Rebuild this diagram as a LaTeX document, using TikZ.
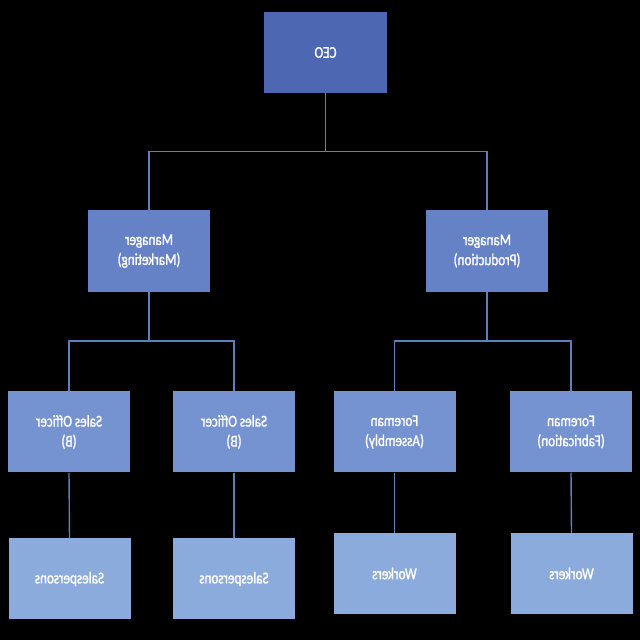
\documentclass[tikz,border=0pt]{standalone}
\usepackage{fontspec}
\setmainfont{Carlito}[FakeStretch=0.8,FakeBold=1.2]
\usepackage{tikz}
\usetikzlibrary{positioning}
\definecolor{TopBlue}{HTML}{4E67B3}
\definecolor{MidBlue}{HTML}{6682C6}
\definecolor{SoftBlue}{HTML}{7592D1}
\definecolor{PaleBlue}{HTML}{8CABDD}
\definecolor{LinkBlue}{HTML}{5A80C2}

\tikzset{
  unit/.style={rectangle,draw=none,text=white,align=center,
    minimum width=122pt,minimum height=81pt,inner sep=2pt,
    font=\fontsize{16.5}{20}\selectfont,xscale=-1,transform shape},
  link/.style={draw=LinkBlue,line width=1.4pt}
}

\begin{document}
\begin{tikzpicture}[x=1pt,y=1pt]
    \fill[black] (0,0) rectangle (640,640);
    \useasboundingbox (0,0) rectangle (640,640);
    % top
    \node[unit,fill=TopBlue,minimum width=123pt] (ceo) at (325.5,587.5) {CEO};
    % managers
    \node[unit,fill=MidBlue,minimum height=82pt] (mkt) at (149,389) {Manager\\(Marketing)};
    \node[unit,fill=MidBlue,minimum height=82pt] (prod) at (487,389) {Manager\\(Production)};
    % officers and foremen
    \node[unit,fill=SoftBlue] (soa) at (69,208) {Sales Officer\\(B)};
    \node[unit,fill=SoftBlue] (sob) at (234,208) {Sales Officer\\(B)};
    \node[unit,fill=SoftBlue] (fasm) at (394.5,208) {Foreman\\(Assembly)};
    \node[unit,fill=SoftBlue] (ffab) at (571,208) {Foreman\\(Fabrication)};
    % staff
    \node[unit,fill=PaleBlue] (spa) at (69.5,61) {Salespersons};
    \node[unit,fill=PaleBlue] (spb) at (234,61) {Salespersons};
    \node[unit,fill=PaleBlue] (wka) at (394.5,66.5) {Workers};
    \node[unit,fill=PaleBlue] (wkb) at (571.5,66.5) {Workers};
    % connectors
    \draw[link] (ceo.south) -- ++(0,-58.5) -| (mkt.north);
    \draw[link] (ceo.south) -- ++(0,-58.5) -| (prod.north);
    \draw[link] (mkt.south) -- ++(0,-49) -| (soa.north);
    \draw[link] (mkt.south) -- ++(0,-49) -| (sob.north);
    \draw[link] (prod.south) -- ++(0,-49) -| (fasm.north);
    \draw[link] (prod.south) -- ++(0,-49) -| (ffab.north);
    \draw[link] (soa.south) -- (spa.north);
    \draw[link] (sob.south) -- (spb.north);
    \draw[link] (fasm.south) -- (wka.north);
    \draw[link] (ffab.south) -- (wkb.north);
  \end{tikzpicture}
\end{document}
